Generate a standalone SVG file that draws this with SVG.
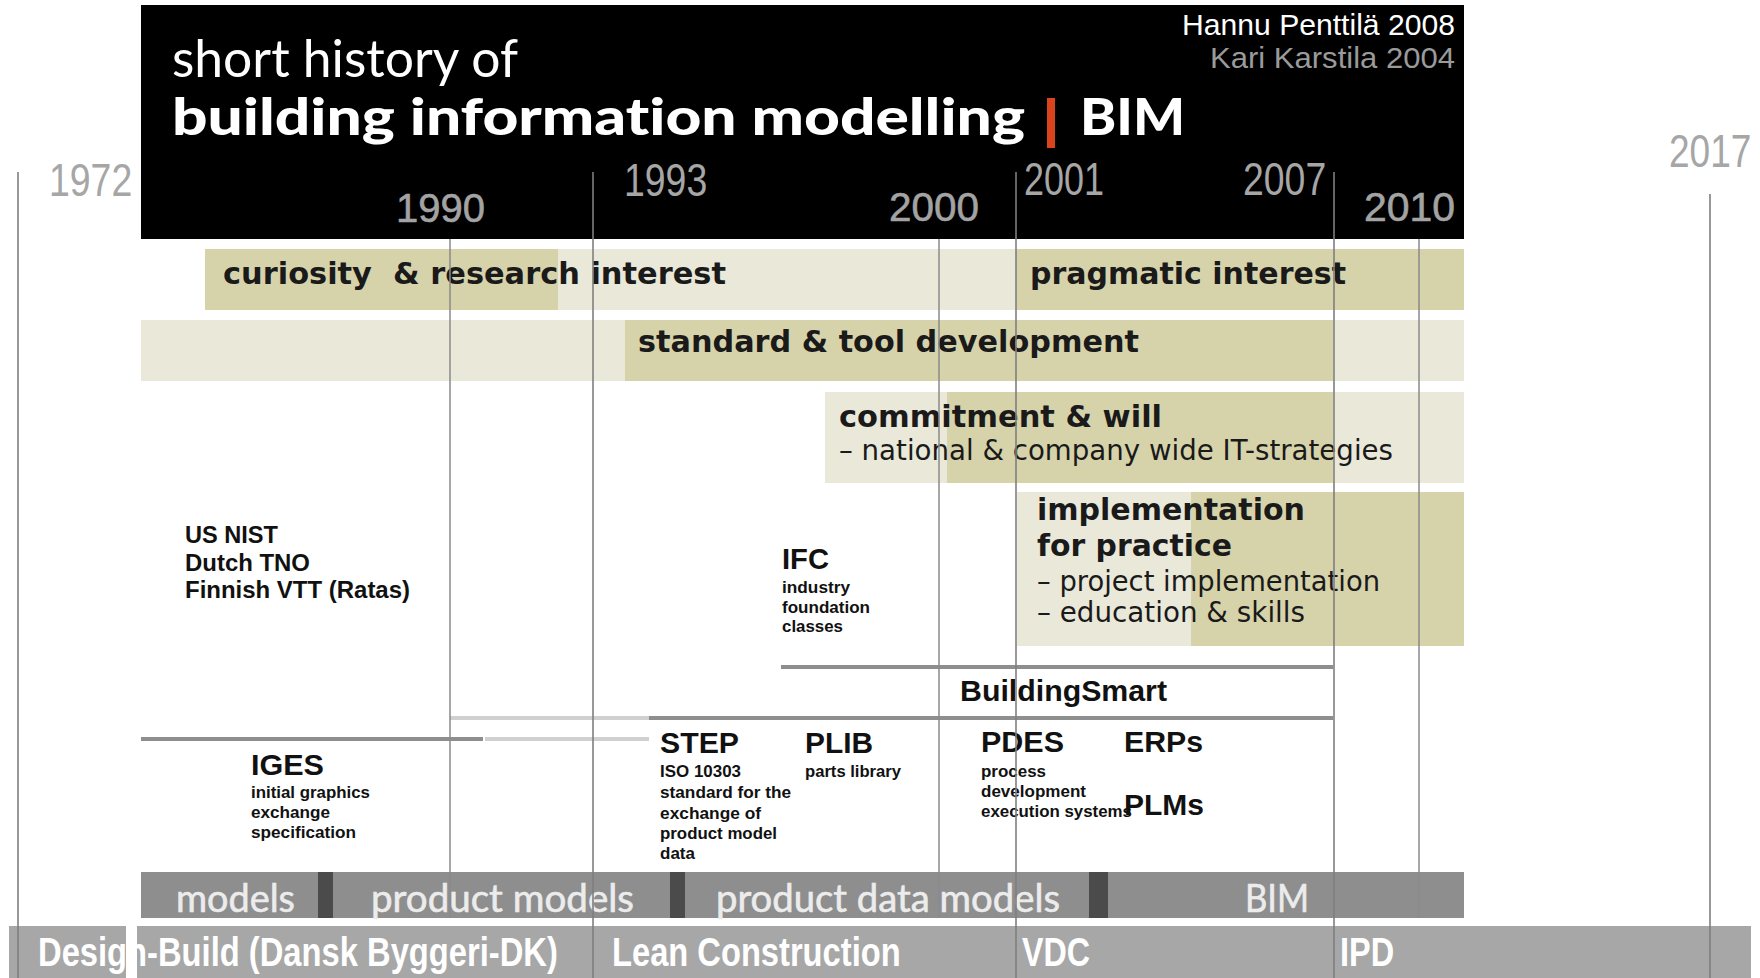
<svg xmlns="http://www.w3.org/2000/svg" width="1760" height="978" viewBox="0 0 1760 978">
<style>
.title{font-family:"Lato","Open Sans",sans-serif;fill:#ffffff;font-variant-ligatures:none;font-feature-settings:"liga" 0,"clig" 0}
.hy{font-family:"Liberation Sans",Arial,sans-serif;font-size:41px;fill:#a3a3a3;stroke:#a3a3a3;stroke-width:0.6}
.oy{font-family:"Liberation Sans",Arial,sans-serif;font-size:46px;fill:#a6a6a6}
.band{font-family:"DejaVu Sans",Verdana,sans-serif;font-size:30px;font-weight:bold;fill:#1a1a1a}
.bandsub{font-family:"DejaVu Sans",Verdana,sans-serif;font-size:27.5px;fill:#1a1a1a}
.dk{fill:#d6d3ab}
.lt{fill:#e9e8d9}
.hv{font-family:"Liberation Sans",Arial,sans-serif;font-weight:bold;fill:#111111}
.big{font-size:30px}
.mid{font-size:23px}
.sm{font-size:16.5px}
.mb{font-family:"Lato","Open Sans",sans-serif;font-size:38px;fill:#ececec;stroke:#ececec;stroke-width:0.6;font-variant-ligatures:none}
.bb{font-family:"Liberation Sans",Arial,sans-serif;font-size:40px;font-weight:bold;fill:#ffffff}
.yl{stroke:#8a8a8a;stroke-width:1.5;fill:none}
.ol{stroke:#7f7f7f;stroke-width:1.6;fill:none}
.hdark{stroke:#8e8e8e;stroke-width:4;fill:none}
.hlight{stroke:#d0d0d0;stroke-width:4;fill:none}
</style>
<rect x="0" y="0" width="1760" height="978" fill="#ffffff"/>

<g id="header">
  <rect x="141" y="5" width="1323" height="234" fill="#000000"/>
  <text class="title" x="172" y="77" font-size="52" textLength="346" lengthAdjust="spacingAndGlyphs">short history of</text>
  <text class="title" x="172" y="135" font-size="52" font-weight="900" textLength="853" lengthAdjust="spacingAndGlyphs">building information modelling</text>
  <rect x="1047" y="98" width="8" height="50" fill="#d9441c"/>
  <text class="title" x="1080" y="135" font-size="52" font-weight="900" textLength="105" lengthAdjust="spacingAndGlyphs">BIM</text>
  <text x="1455" y="35" text-anchor="end" font-family="Liberation Sans, Arial, sans-serif" font-size="30" fill="#ffffff" textLength="273" lengthAdjust="spacingAndGlyphs">Hannu Penttilä 2008</text>
  <text x="1455" y="68" text-anchor="end" font-family="Liberation Sans, Arial, sans-serif" font-size="30" fill="#9a9a9a" textLength="245" lengthAdjust="spacingAndGlyphs">Kari Karstila 2004</text>
  <text class="hy" x="396" y="222" textLength="89" lengthAdjust="spacingAndGlyphs">1990</text>
  <text class="hy" x="889" y="221" textLength="90" lengthAdjust="spacingAndGlyphs">2000</text>
  <text class="hy" x="1364" y="221" textLength="91" lengthAdjust="spacingAndGlyphs">2010</text>
</g>

<g id="band-interest">
  <rect class="lt" x="205" y="249" width="1259" height="61"/>
  <rect class="dk" x="205" y="249" width="353" height="61"/>
  <rect class="dk" x="1016" y="249" width="448" height="61"/>
  <text class="band" x="223" y="284" xml:space="preserve" textLength="503" lengthAdjust="spacingAndGlyphs">curiosity  &amp; research interest</text>
  <text class="band" x="1030" y="284" textLength="316" lengthAdjust="spacingAndGlyphs">pragmatic interest</text>
</g>

<g id="band-standard">
  <rect class="lt" x="141" y="320" width="1323" height="61"/>
  <rect class="dk" x="625" y="320" width="708" height="61"/>
  <text class="band" x="638" y="352" textLength="501" lengthAdjust="spacingAndGlyphs">standard &amp; tool development</text>
</g>

<g id="band-commitment">
  <rect class="lt" x="825" y="392" width="639" height="91"/>
  <rect class="dk" x="947" y="392" width="386" height="91"/>
  <text class="band" x="839" y="427" textLength="323" lengthAdjust="spacingAndGlyphs">commitment &amp; will</text>
  <text class="bandsub" x="839" y="460" textLength="554" lengthAdjust="spacingAndGlyphs">– national &amp; company wide IT-strategies</text>
</g>

<g id="band-implementation">
  <rect class="lt" x="1017" y="492" width="447" height="154"/>
  <rect class="dk" x="1191" y="492" width="273" height="154"/>
  <text class="band" x="1037" y="520" textLength="268" lengthAdjust="spacingAndGlyphs">implementation</text>
  <text class="band" x="1037" y="556" textLength="195" lengthAdjust="spacingAndGlyphs">for practice</text>
  <text class="bandsub" x="1037" y="591" textLength="343" lengthAdjust="spacingAndGlyphs">– project implementation</text>
  <text class="bandsub" x="1037" y="622" textLength="268" lengthAdjust="spacingAndGlyphs">– education &amp; skills</text>
</g>

<g id="institutes">
  <text class="hv mid" x="185" y="543" textLength="93" lengthAdjust="spacingAndGlyphs">US NIST</text>
  <text class="hv mid" x="185" y="571" textLength="125" lengthAdjust="spacingAndGlyphs">Dutch TNO</text>
  <text class="hv mid" x="185" y="598" textLength="225" lengthAdjust="spacingAndGlyphs">Finnish VTT (Ratas)</text>
</g>

<g id="ifc">
  <text class="hv big" x="782" y="569" textLength="47" lengthAdjust="spacingAndGlyphs">IFC</text>
  <text class="hv sm" x="782" y="593" textLength="68" lengthAdjust="spacingAndGlyphs">industry</text>
  <text class="hv sm" x="782" y="613" textLength="88" lengthAdjust="spacingAndGlyphs">foundation</text>
  <text class="hv sm" x="782" y="632" textLength="61" lengthAdjust="spacingAndGlyphs">classes</text>
</g>

<g id="buildingsmart">
  <text class="hv" x="960" y="701" font-size="29" textLength="207" lengthAdjust="spacingAndGlyphs">BuildingSmart</text>
</g>

<g id="iges">
  <text class="hv big" x="251" y="775" textLength="73" lengthAdjust="spacingAndGlyphs">IGES</text>
  <text class="hv sm" x="251" y="798" textLength="119" lengthAdjust="spacingAndGlyphs">initial graphics</text>
  <text class="hv sm" x="251" y="818" textLength="79" lengthAdjust="spacingAndGlyphs">exchange</text>
  <text class="hv sm" x="251" y="838" textLength="105" lengthAdjust="spacingAndGlyphs">specification</text>
</g>

<g id="step">
  <text class="hv big" x="660" y="753" textLength="79" lengthAdjust="spacingAndGlyphs">STEP</text>
  <text class="hv sm" x="660" y="777" textLength="81" lengthAdjust="spacingAndGlyphs">ISO 10303</text>
  <text class="hv sm" x="660" y="798" textLength="131" lengthAdjust="spacingAndGlyphs">standard for the</text>
  <text class="hv sm" x="660" y="819" textLength="101" lengthAdjust="spacingAndGlyphs">exchange of</text>
  <text class="hv sm" x="660" y="839" textLength="117" lengthAdjust="spacingAndGlyphs">product model</text>
  <text class="hv sm" x="660" y="859" textLength="35" lengthAdjust="spacingAndGlyphs">data</text>
</g>

<g id="plib">
  <text class="hv big" x="805" y="753" textLength="68" lengthAdjust="spacingAndGlyphs">PLIB</text>
  <text class="hv sm" x="805" y="777" textLength="96" lengthAdjust="spacingAndGlyphs">parts library</text>
</g>

<g id="pdes">
  <text class="hv big" x="981" y="752" textLength="83" lengthAdjust="spacingAndGlyphs">PDES</text>
  <text class="hv sm" x="981" y="777" textLength="65" lengthAdjust="spacingAndGlyphs">process</text>
  <text class="hv sm" x="981" y="797" textLength="105" lengthAdjust="spacingAndGlyphs">development</text>
  <text class="hv sm" x="981" y="817" textLength="151" lengthAdjust="spacingAndGlyphs">execution systems</text>
</g>

<g id="erps">
  <text class="hv big" x="1124" y="752" textLength="79" lengthAdjust="spacingAndGlyphs">ERPs</text>
</g>
<g id="plms">
  <text class="hv big" x="1124" y="815" textLength="80" lengthAdjust="spacingAndGlyphs">PLMs</text>
</g>

<g id="models-bar">
  <rect x="141" y="872" width="1323" height="46" fill="#8e8e8e"/>
  <rect x="318" y="872" width="15" height="46" fill="#4b4b4b"/>
  <rect x="670" y="872" width="15" height="46" fill="#4b4b4b"/>
  <rect x="1089" y="872" width="19" height="46" fill="#4b4b4b"/>
  <text class="mb" x="176" y="912" textLength="119" lengthAdjust="spacingAndGlyphs">models</text>
  <text class="mb" x="371" y="912" textLength="263" lengthAdjust="spacingAndGlyphs">product models</text>
  <text class="mb" x="716" y="912" textLength="344" lengthAdjust="spacingAndGlyphs">product data models</text>
  <text class="mb" x="1245" y="912" textLength="64" lengthAdjust="spacingAndGlyphs">BIM</text>
</g>

<g id="delivery-bar">
  <rect x="9" y="926" width="117" height="52" fill="#a7a7a7"/>
  <rect x="137" y="926" width="1614" height="52" fill="#a7a7a7"/>
  <text class="bb" transform="translate(38,966) scale(0.82,1)" x="0" y="0" textLength="634" lengthAdjust="spacingAndGlyphs">Design-Build (Dansk Byggeri-DK)</text>
  <rect x="126" y="926" width="11" height="52" fill="#ffffff"/>
  <text class="bb" transform="translate(612,966) scale(0.82,1)" x="0" y="0" textLength="352" lengthAdjust="spacingAndGlyphs">Lean Construction</text>
  <text class="bb" transform="translate(1022,966) scale(0.82,1)" x="0" y="0" textLength="83" lengthAdjust="spacingAndGlyphs">VDC</text>
  <text class="bb" transform="translate(1340,966) scale(0.82,1)" x="0" y="0" textLength="66" lengthAdjust="spacingAndGlyphs">IPD</text>
</g>

<g id="connectors">
  <line class="hdark" x1="141" y1="739" x2="483" y2="739"/>
  <line class="hlight" x1="485" y1="739" x2="649" y2="739"/>
  <line class="hlight" x1="450" y1="718" x2="649" y2="718"/>
  <line class="hdark" x1="649" y1="718" x2="1333" y2="718"/>
  <line class="hdark" x1="781" y1="667" x2="1333" y2="667"/>
  <line class="yl" x1="450" y1="239" x2="450" y2="918"/>
  <line class="yl" x1="939" y1="239" x2="939" y2="918"/>
  <line class="yl" x1="1419" y1="239" x2="1419" y2="918"/>
  <line class="ol" x1="18" y1="172" x2="18" y2="978" stroke-width="2.6"/>
  <line class="ol" x1="593" y1="172" x2="593" y2="978"/>
  <line class="ol" x1="1016" y1="172" x2="1016" y2="978"/>
  <line class="ol" x1="1334" y1="172" x2="1334" y2="978"/>
  <line class="ol" x1="1710" y1="194" x2="1710" y2="978"/>
</g>

<g id="overlay-years">
  <text class="oy" transform="translate(49,196) scale(0.8,1)" x="0" y="0" textLength="104" lengthAdjust="spacingAndGlyphs">1972</text>
  <text class="oy" transform="translate(624,196) scale(0.8,1)" x="0" y="0" textLength="104" lengthAdjust="spacingAndGlyphs">1993</text>
  <text class="oy" transform="translate(1024,195) scale(0.8,1)" x="0" y="0" textLength="100" lengthAdjust="spacingAndGlyphs">2001</text>
  <text class="oy" transform="translate(1243,195) scale(0.8,1)" x="0" y="0" textLength="104" lengthAdjust="spacingAndGlyphs">2007</text>
  <text class="oy" transform="translate(1669,167) scale(0.8,1)" x="0" y="0" textLength="103" lengthAdjust="spacingAndGlyphs">2017</text>
</g>
</svg>
